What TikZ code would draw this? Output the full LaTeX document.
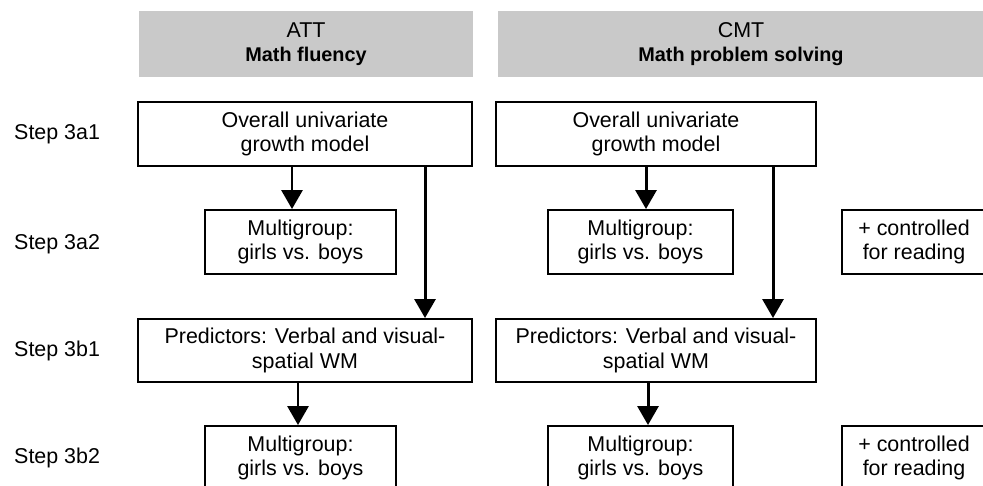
\documentclass[tikz,border=0pt]{standalone}
\usepackage{fontspec}
\setmainfont{Liberation Sans}
\usetikzlibrary{shapes,arrows.meta}
\definecolor{HeadCol}{RGB}{201,201,201}
\newcommand{\headsub}[1]{{\fontsize{11.3}{13.8}\selectfont\bfseries #1}}
\tikzstyle{head} = [rectangle, fill=HeadCol, align=center, inner sep=0pt]
\tikzstyle{stepbox} = [rectangle, draw=black, line width=1.1pt, align=center, inner sep=0pt, minimum height=1.28cm]
\tikzstyle{flow} = [-{Triangle[width=0.42cm,length=0.38cm]}, line width=1.7pt]

\begin{document}
\begin{tikzpicture}[font=\fontsize{12.2}{13.8}\selectfont]

                    \useasboundingbox (0,0) rectangle (19.66,-9.70);

                    % column heads
                    \node[head, minimum width=6.68cm, minimum height=1.32cm] (hatt) at (6.12,-0.88) {ATT\\\headsub{Math fluency}};
                    \node[head, minimum width=9.72cm, minimum height=1.32cm] (hcmt) at (14.82,-0.88) {CMT\\\headsub{Math problem solving}};

                    % step labels
                    \node[anchor=west] (s3a1) at (0.16,-2.68) {Step 3a1};
                    \node[anchor=west] (s3a2) at (0.16,-4.88) {Step 3a2};
                    \node[anchor=west] (s3b1) at (0.16,-7.01) {Step 3b1};
                    \node[anchor=west] (s3b2) at (0.16,-9.16) {Step 3b2};

                    % ATT column
                    \node[stepbox, minimum width=6.68cm] (ovatt) at (6.10,-2.68) {Overall univariate\\growth model};
                    \node[stepbox, minimum width=3.82cm] (mgatt) at (6.01,-4.84) {Multigroup:\\girls vs. boys};
                    \node[stepbox, minimum width=6.68cm, minimum height=1.26cm] (pratt) at (6.10,-7.01) {Predictors: Verbal and visual-\\spatial WM};
                    \node[stepbox, minimum width=3.82cm] (mgattb) at (6.01,-9.16) {Multigroup:\\girls vs. boys};

                    % CMT column
                    \node[stepbox, minimum width=6.40cm] (ovcmt) at (13.12,-2.68) {Overall univariate\\growth model};
                    \node[stepbox, minimum width=3.70cm] (mgcmt) at (12.81,-4.84) {Multigroup:\\girls vs. boys};
                    \node[stepbox, minimum width=2.88cm] (rdcmt) at (18.28,-4.84) {+ controlled\\for reading};
                    \node[stepbox, minimum width=6.40cm, minimum height=1.26cm] (prcmt) at (13.12,-7.01) {Predictors: Verbal and visual-\\spatial WM};
                    \node[stepbox, minimum width=3.70cm] (mgcmtb) at (12.81,-9.16) {Multigroup:\\girls vs. boys};
                    \node[stepbox, minimum width=2.88cm] (rdcmtb) at (18.28,-9.16) {+ controlled\\for reading};

                    % arrows
                    \draw[flow] ([xshift=-0.17cm]mgatt.north |- ovatt.south) -- ([xshift=-0.17cm]mgatt.north);
                    \draw[flow] ([xshift=2.40cm]ovatt.south) -- ([xshift=2.40cm]ovatt.south |- pratt.north);
                    \draw[flow] ([xshift=-0.05cm]mgattb.north |- pratt.south) -- ([xshift=-0.05cm]mgattb.north);

                    \draw[flow] ([xshift=0.11cm]mgcmt.north |- ovcmt.south) -- ([xshift=0.11cm]mgcmt.north);
                    \draw[flow] ([xshift=2.34cm]ovcmt.south) -- ([xshift=2.34cm]ovcmt.south |- prcmt.north);
                    \draw[flow] ([xshift=0.15cm]mgcmtb.north |- prcmt.south) -- ([xshift=0.15cm]mgcmtb.north);

\end{tikzpicture}
\end{document}
